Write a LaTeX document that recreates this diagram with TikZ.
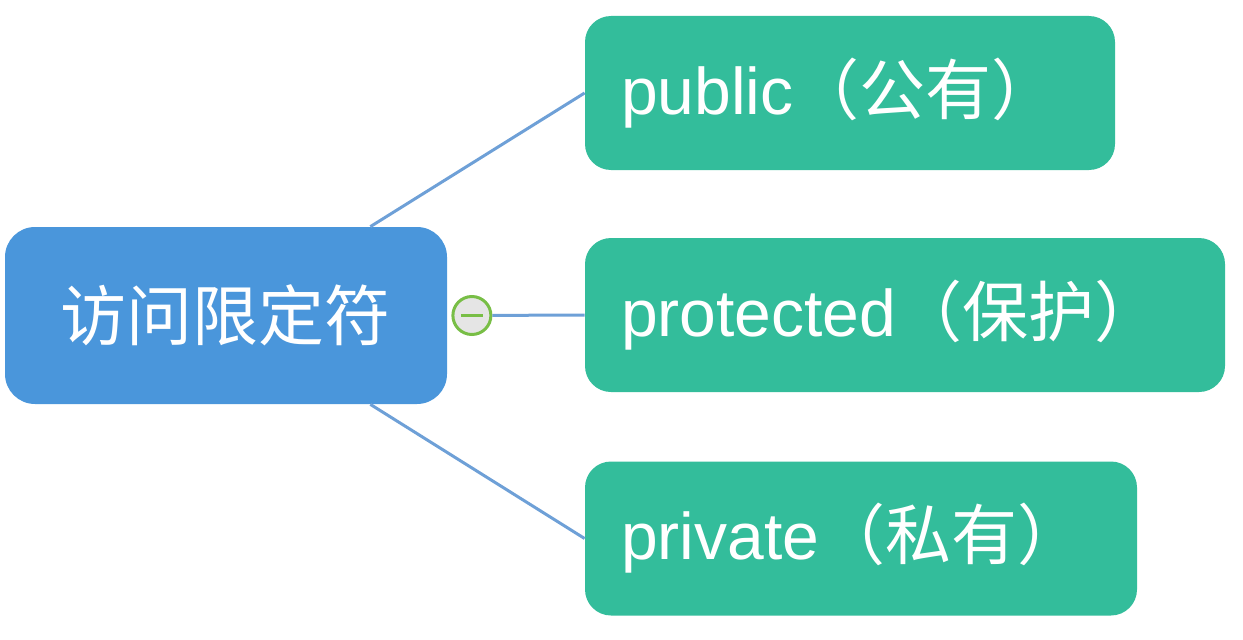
\documentclass[tikz,border=0pt]{standalone}
\usepackage{fontspec}
\setmainfont{Liberation Sans}
\newfontfamily\cjk{Noto Sans CJK SC}
\usetikzlibrary{positioning}
\definecolor{rootblue}{RGB}{74,150,219}
\definecolor{leafgreen}{RGB}{51,189,155}
\definecolor{edgeblue}{RGB}{110,160,215}
\definecolor{foldgreen}{RGB}{120,190,70}

\begin{document}
\begin{tikzpicture}[x=0.5pt, y=0.5pt,
	rootbox/.style={fill=rootblue, rounded corners=15pt, text=white, minimum width=221pt,
		minimum height=88.5pt, font=\cjk\fontsize{33}{40}\selectfont},
	leaf/.style={fill=leafgreen, rounded corners=13pt, text=white, minimum height=77pt,
		inner xsep=18pt, align=left, font=\fontsize{33}{40}\selectfont},
	branch/.style={draw=edgeblue, line width=1.5pt}]
	\useasboundingbox (0, 0) rectangle (1243, 639);
	\node[rootbox] (root) at (226, 323.5) {访问限定符};
	\node[leaf, text width=229pt] (pub) at (850, 546) {public{\cjk（公有）}};
	\node[leaf, text width=284pt] (prot) at (905, 324) {protected{\cjk（保护）}};
	\node[leaf, text width=240pt] (priv) at (861, 100.5) {private{\cjk（私有）}};
	\node[circle, draw=foldgreen, line width=1.5pt, fill=gray!20, minimum size=19pt,
		inner sep=0pt, right=2pt of root.east] (fold) {};
	\coordinate (top) at ([xshift=-38.5pt]root.north east);
	\coordinate (bot) at ([xshift=-38.5pt]root.south east);
	\draw[branch] (top) to (pub.west);
	\draw[branch] (fold) to (prot.west);
	\draw[branch] (bot) to (priv.west);
	\draw[foldgreen, line width=1.5pt] ([xshift=-5.5pt]fold.center) to ([xshift=5.5pt]fold.center);
\end{tikzpicture}
\end{document}
